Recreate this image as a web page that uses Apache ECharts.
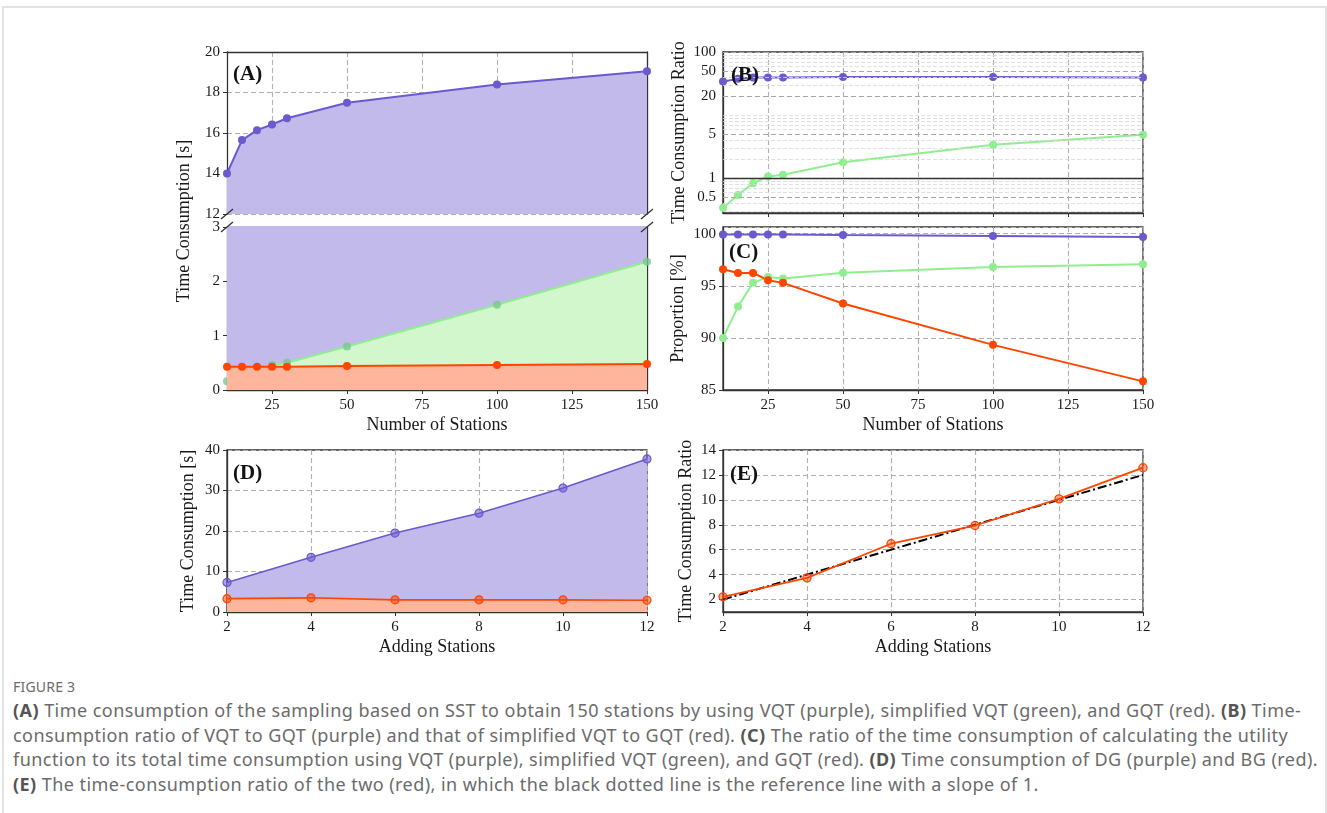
<!DOCTYPE html>
<html>
<head>
<meta charset="utf-8">
<script src="https://cdn.jsdelivr.net/npm/echarts@6/dist/echarts.min.js"></script>
<style>
  body { margin: 0; background: #fff; }
  #frame { position: absolute; left: 2px; top: 6px; width: 1321px; height: 830px; border: 2px solid #e3e3e3; border-bottom: none; }
  #chart { position: absolute; left: 0; top: 0; width: 1327px; height: 665px; }
  #caption { position: absolute; left: 13px; top: 676px; font-family: 'Noto Sans'; color: #6b6b6b; white-space: nowrap; }
  #caption .fig { font-size: 14px; line-height: 22px; letter-spacing: 0.2px; }
  #caption .line { font-size: 18px; line-height: 24.7px; letter-spacing: 0.45px; }
  #caption b { color: #555; }
</style>
</head>
<body>
<div id="frame"></div>
<div id="chart"></div>
<div id="caption">
  <div class="fig">FIGURE 3</div>
  <div class="line"><b>(A)</b> Time consumption of the sampling based on SST to obtain 150 stations by using VQT (purple), simplified VQT (green), and GQT (red). <b>(B)</b> Time-</div>
  <div class="line">consumption ratio of VQT to GQT (purple) and that of simplified VQT to GQT (red). <b>(C)</b> The ratio of the time consumption of calculating the utility</div>
  <div class="line">function to its total time consumption using VQT (purple), simplified VQT (green), and GQT (red). <b>(D)</b> Time consumption of DG (purple) and BG (red).</div>
  <div class="line"><b>(E)</b> The time-consumption ratio of the two (red), in which the black dotted line is the reference line with a slope of 1.</div>
</div>
<script>
// panels A-C: number of stations
const stations = [10, 15, 20, 25, 30, 50, 100, 150];
const stationTicks = [25, 50, 75, 100, 125, 150];
const vqtTime = [14.0, 15.65, 16.14, 16.42, 16.73, 17.49, 18.39, 19.05];
const simpleVqtTime = [0.16, 0.23, 0.35, 0.46, 0.50, 0.80, 1.57, 2.36];
const gqtTime = [0.43, 0.43, 0.43, 0.43, 0.43, 0.44, 0.46, 0.48];

const vqtRatio = [34, 37.5, 39.5, 39.5, 39.5, 40, 40, 39.5];
const simpleVqtRatio = [0.34, 0.54, 0.83, 1.06, 1.13, 1.79, 3.38, 4.87];
const ratioTicks = [0.5, 5, 20, 50, 100];
const ratioMinor = [0.3, 0.4, 0.6, 0.7, 0.8, 0.9, 2, 3, 4, 6, 7, 8, 9, 10, 30, 40, 60, 70, 80, 90];

const vqtShare = [99.92, 99.92, 99.92, 99.92, 99.92, 99.87, 99.77, 99.68];
const simpleVqtShare = [90.0, 93.0, 95.28, 95.85, 95.7, 96.24, 96.8, 97.07];
const gqtShare = [96.58, 96.23, 96.23, 95.53, 95.28, 93.3, 89.33, 85.83];

// panels D-E: adding stations
const adding = [2, 4, 6, 8, 10, 12];
const dgTime = [7.3, 13.5, 19.5, 24.4, 30.6, 37.8];
const bgTime = [3.3, 3.5, 3.0, 3.0, 3.0, 2.9];
const dgBgRatio = [2.22, 3.74, 6.48, 7.94, 10.08, 12.58];
const ratioAxisTicks = [2, 4, 6, 8, 10, 12, 14];
const refX = [2, 12];
const refY = [2, 12];

const PURPLE = '#6a5acd';
const GREEN = '#90ee90';
const RED = '#ff4500';
const PURPLE_FILL = '#c1baea';
const GREEN_FILL = '#d3f7cd';
const RED_FILL = '#fdb59b';
const SERIF = 'Liberation Serif';
const SPINE = '#333';

const pairs = (xs, ys) => xs.map((x, i) => [x, ys[i]]);

const tickLabel = {fontFamily: SERIF, fontSize: 15, color: '#1a1a1a'};
const gridLine = {show: true, lineStyle: {color: '#b0b0b0', type: [5, 3], width: 1.1}};
const spine = {show: true, lineStyle: {color: SPINE, width: 1.3}};
const ticks = {show: true, inside: false, length: 4, lineStyle: {color: SPINE, width: 1}};
const nameStyle = {fontFamily: SERIF, fontSize: 18, color: '#1a1a1a'};
const boxGrid = {show: true, borderColor: SPINE, borderWidth: 1.3};
const labelFont = 'bold 21px "Liberation Serif"';

function stationAxis(gridIndex, extra) {
  return Object.assign({
    type: 'value', gridIndex: gridIndex, min: 10, max: 150,
    axisLine: spine,
    axisTick: Object.assign({}, ticks, {customValues: stationTicks}),
    axisLabel: Object.assign({}, tickLabel, {customValues: stationTicks, margin: 8}),
    splitLine: gridLine
  }, extra);
}

function line(name, data, color, xi, yi, extra) {
  return Object.assign({
    name: name, type: 'line', xAxisIndex: xi, yAxisIndex: yi, data: data,
    symbol: 'circle', symbolSize: 8,
    lineStyle: {color: color, width: 2},
    itemStyle: {color: color},
    z: 3
  }, extra);
}

const chart = echarts.init(document.getElementById('chart'));

const option = {
  animation: false,
  grid: [
    {left: 227, top: 52, width: 420, height: 162},
    {left: 227, top: 227, width: 420, height: 163},
    Object.assign({left: 723, top: 52, width: 420, height: 161}, boxGrid),
    Object.assign({left: 723, top: 227, width: 420, height: 163}, boxGrid),
    Object.assign({left: 227, top: 450, width: 420, height: 162}, boxGrid),
    Object.assign({left: 723, top: 450, width: 420, height: 162}, boxGrid)
  ],
  xAxis: [
    stationAxis(0, {position: 'top', axisTick: {show: false, customValues: stationTicks}, axisLabel: {show: false}}),
    stationAxis(1, {name: 'Number of Stations', nameLocation: 'middle', nameGap: 26, nameTextStyle: nameStyle}),
    stationAxis(2, {axisLabel: {show: false}}),
    stationAxis(3, {name: 'Number of Stations', nameLocation: 'middle', nameGap: 26, nameTextStyle: nameStyle}),
    {type: 'value', gridIndex: 4, min: 2, max: 12, interval: 2, axisLine: spine, axisTick: ticks,
      axisLabel: Object.assign({margin: 8}, tickLabel), splitLine: gridLine,
      name: 'Adding Stations', nameLocation: 'middle', nameGap: 26, nameTextStyle: nameStyle},
    {type: 'value', gridIndex: 5, min: 2, max: 12, interval: 2, axisLine: spine, axisTick: ticks,
      axisLabel: Object.assign({margin: 8}, tickLabel), splitLine: gridLine,
      name: 'Adding Stations', nameLocation: 'middle', nameGap: 26, nameTextStyle: nameStyle}
  ],
  yAxis: [
    {type: 'value', gridIndex: 0, min: 12, max: 20, interval: 2, axisLine: spine, axisTick: ticks,
      axisLabel: Object.assign({margin: 7}, tickLabel), splitLine: gridLine},
    {type: 'value', gridIndex: 1, min: 0, max: 3, interval: 1, axisLine: spine, axisTick: ticks,
      axisLabel: Object.assign({margin: 7}, tickLabel), splitLine: gridLine},
    {type: 'log', gridIndex: 2, min: 0.28, max: 100, logBase: 10, axisLine: spine,
      axisTick: {show: false}, axisLabel: {show: false}, splitLine: {show: false},
      name: 'Time Consumption Ratio', nameLocation: 'middle', nameGap: 35, nameTextStyle: nameStyle},
    {type: 'value', gridIndex: 3, min: 85, max: 100.64, interval: 5, axisLine: spine, axisTick: ticks,
      axisLabel: Object.assign({margin: 7, showMaxLabel: false}, tickLabel), splitLine: gridLine,
      name: 'Proportion [%]', nameLocation: 'middle', nameGap: 36, nameTextStyle: nameStyle},
    {type: 'value', gridIndex: 4, min: 0, max: 40, interval: 10, axisLine: spine, axisTick: ticks,
      axisLabel: Object.assign({margin: 7}, tickLabel), splitLine: gridLine,
      name: 'Time Consumption [s]', nameLocation: 'middle', nameGap: 30, nameTextStyle: nameStyle},
    {type: 'value', gridIndex: 5, min: 1, max: 14, axisLine: spine,
      axisTick: Object.assign({}, ticks, {customValues: ratioAxisTicks}),
      axisLabel: Object.assign({margin: 7, customValues: ratioAxisTicks}, tickLabel), splitLine: gridLine,
      name: 'Time Consumption Ratio', nameLocation: 'middle', nameGap: 28, nameTextStyle: nameStyle},
    // right spines of the broken panel A
    {type: 'value', gridIndex: 0, min: 12, max: 20, position: 'right', axisLine: spine,
      axisTick: {show: false}, axisLabel: {show: false}, splitLine: {show: false}},
    {type: 'value', gridIndex: 1, min: 0, max: 3, position: 'right', axisLine: spine,
      axisTick: {show: false}, axisLabel: {show: false}, splitLine: {show: false}}
  ],
  series: [
    // A upper
    line('VQT', pairs(stations, vqtTime), PURPLE, 0, 0, {areaStyle: {color: PURPLE_FILL, opacity: 1}}),
    // A lower
    line('VQT', pairs(stations, vqtTime), PURPLE, 1, 1, {areaStyle: {color: PURPLE_FILL, opacity: 1}, z: 1}),
    line('simplified VQT', pairs(stations, simpleVqtTime), GREEN, 1, 1, {
      areaStyle: {color: GREEN_FILL, opacity: 1}, itemStyle: {color: 'rgba(120,200,140,0.8)'}, z: 2}),
    line('GQT', pairs(stations, gqtTime), RED, 1, 1, {areaStyle: {color: RED_FILL, opacity: 1}, z: 3}),
    // B
    line('VQT/GQT', pairs(stations, vqtRatio), PURPLE, 2, 2),
    line('simplified VQT/GQT', pairs(stations, simpleVqtRatio), GREEN, 2, 2, {
      markLine: {
        silent: true, symbol: 'none', animation: false,
        data: ratioMinor.map(v => ({yAxis: v, label: {show: false},
          lineStyle: {color: '#d8d8d8', type: [4, 2], width: 0.8}}))
          .concat(ratioTicks.map(v => ({yAxis: v,
            label: Object.assign({show: true, position: 'start', distance: 7, formatter: String(v)}, tickLabel),
            lineStyle: {color: '#a8a8a8', type: [5, 3], width: 1.1}})))
          .concat([{yAxis: 1,
            label: Object.assign({show: true, position: 'start', distance: 7, formatter: '1'}, tickLabel),
            lineStyle: {color: SPINE, type: 'solid', width: 1.4}}])
      }
    }),
    // C
    line('VQT', pairs(stations, vqtShare), PURPLE, 3, 3),
    line('simplified VQT', pairs(stations, simpleVqtShare), GREEN, 3, 3),
    line('GQT', pairs(stations, gqtShare), RED, 3, 3),
    // D
    line('DG', pairs(adding, dgTime), PURPLE, 4, 4, {areaStyle: {color: PURPLE_FILL, opacity: 1},
      lineStyle: {color: PURPLE, width: 1.6}, symbolSize: 8,
      itemStyle: {color: 'rgba(106,90,205,0.55)', borderColor: PURPLE, borderWidth: 1.2}}),
    line('BG', pairs(adding, bgTime), RED, 4, 4, {areaStyle: {color: RED_FILL, opacity: 1},
      lineStyle: {color: RED, width: 1.6}, symbolSize: 8,
      itemStyle: {color: 'rgba(255,69,0,0.55)', borderColor: RED, borderWidth: 1.2}}),
    // E
    line('reference', pairs(refX, refY), '#000', 5, 5, {symbol: 'none', lineStyle: {color: '#000', width: 2, type: [9, 3, 2, 3]}, z: 2}),
    line('DG/BG', pairs(adding, dgBgRatio), RED, 5, 5, {lineStyle: {color: RED, width: 1.8}, symbolSize: 8,
      itemStyle: {color: 'rgba(255,69,0,0.45)', borderColor: RED, borderWidth: 1.3}, z: 3})
  ],
  graphic: [
    {type: 'text', x: 184, y: 221, rotation: Math.PI / 2,
      style: {text: 'Time Consumption [s]', font: '18px "Liberation Serif"', fill: '#1a1a1a', align: 'center', verticalAlign: 'middle'}},
    {type: 'text', left: 233, top: 64, style: {text: '(A)', font: labelFont, fill: '#111'}, z: 10},
    {type: 'text', left: 731, top: 65, style: {text: '(B)', font: labelFont, fill: '#111'}, z: 10},
    {type: 'text', left: 729, top: 242, style: {text: '(C)', font: labelFont, fill: '#111'}, z: 10},
    {type: 'text', left: 233, top: 463, style: {text: '(D)', font: labelFont, fill: '#111'}, z: 10},
    {type: 'text', left: 730, top: 464, style: {text: '(E)', font: labelFont, fill: '#111'}, z: 10},
    // axis break marks
    {type: 'line', shape: {x1: 221, y1: 219, x2: 233, y2: 209}, style: {stroke: SPINE, lineWidth: 1.3}, z: 10},
    {type: 'line', shape: {x1: 221, y1: 232, x2: 233, y2: 222}, style: {stroke: SPINE, lineWidth: 1.3}, z: 10},
    {type: 'line', shape: {x1: 641, y1: 219, x2: 653, y2: 209}, style: {stroke: SPINE, lineWidth: 1.3}, z: 10},
    {type: 'line', shape: {x1: 641, y1: 232, x2: 653, y2: 222}, style: {stroke: SPINE, lineWidth: 1.3}, z: 10}
  ]
};

chart.setOption(option);
</script>
</body>
</html>
